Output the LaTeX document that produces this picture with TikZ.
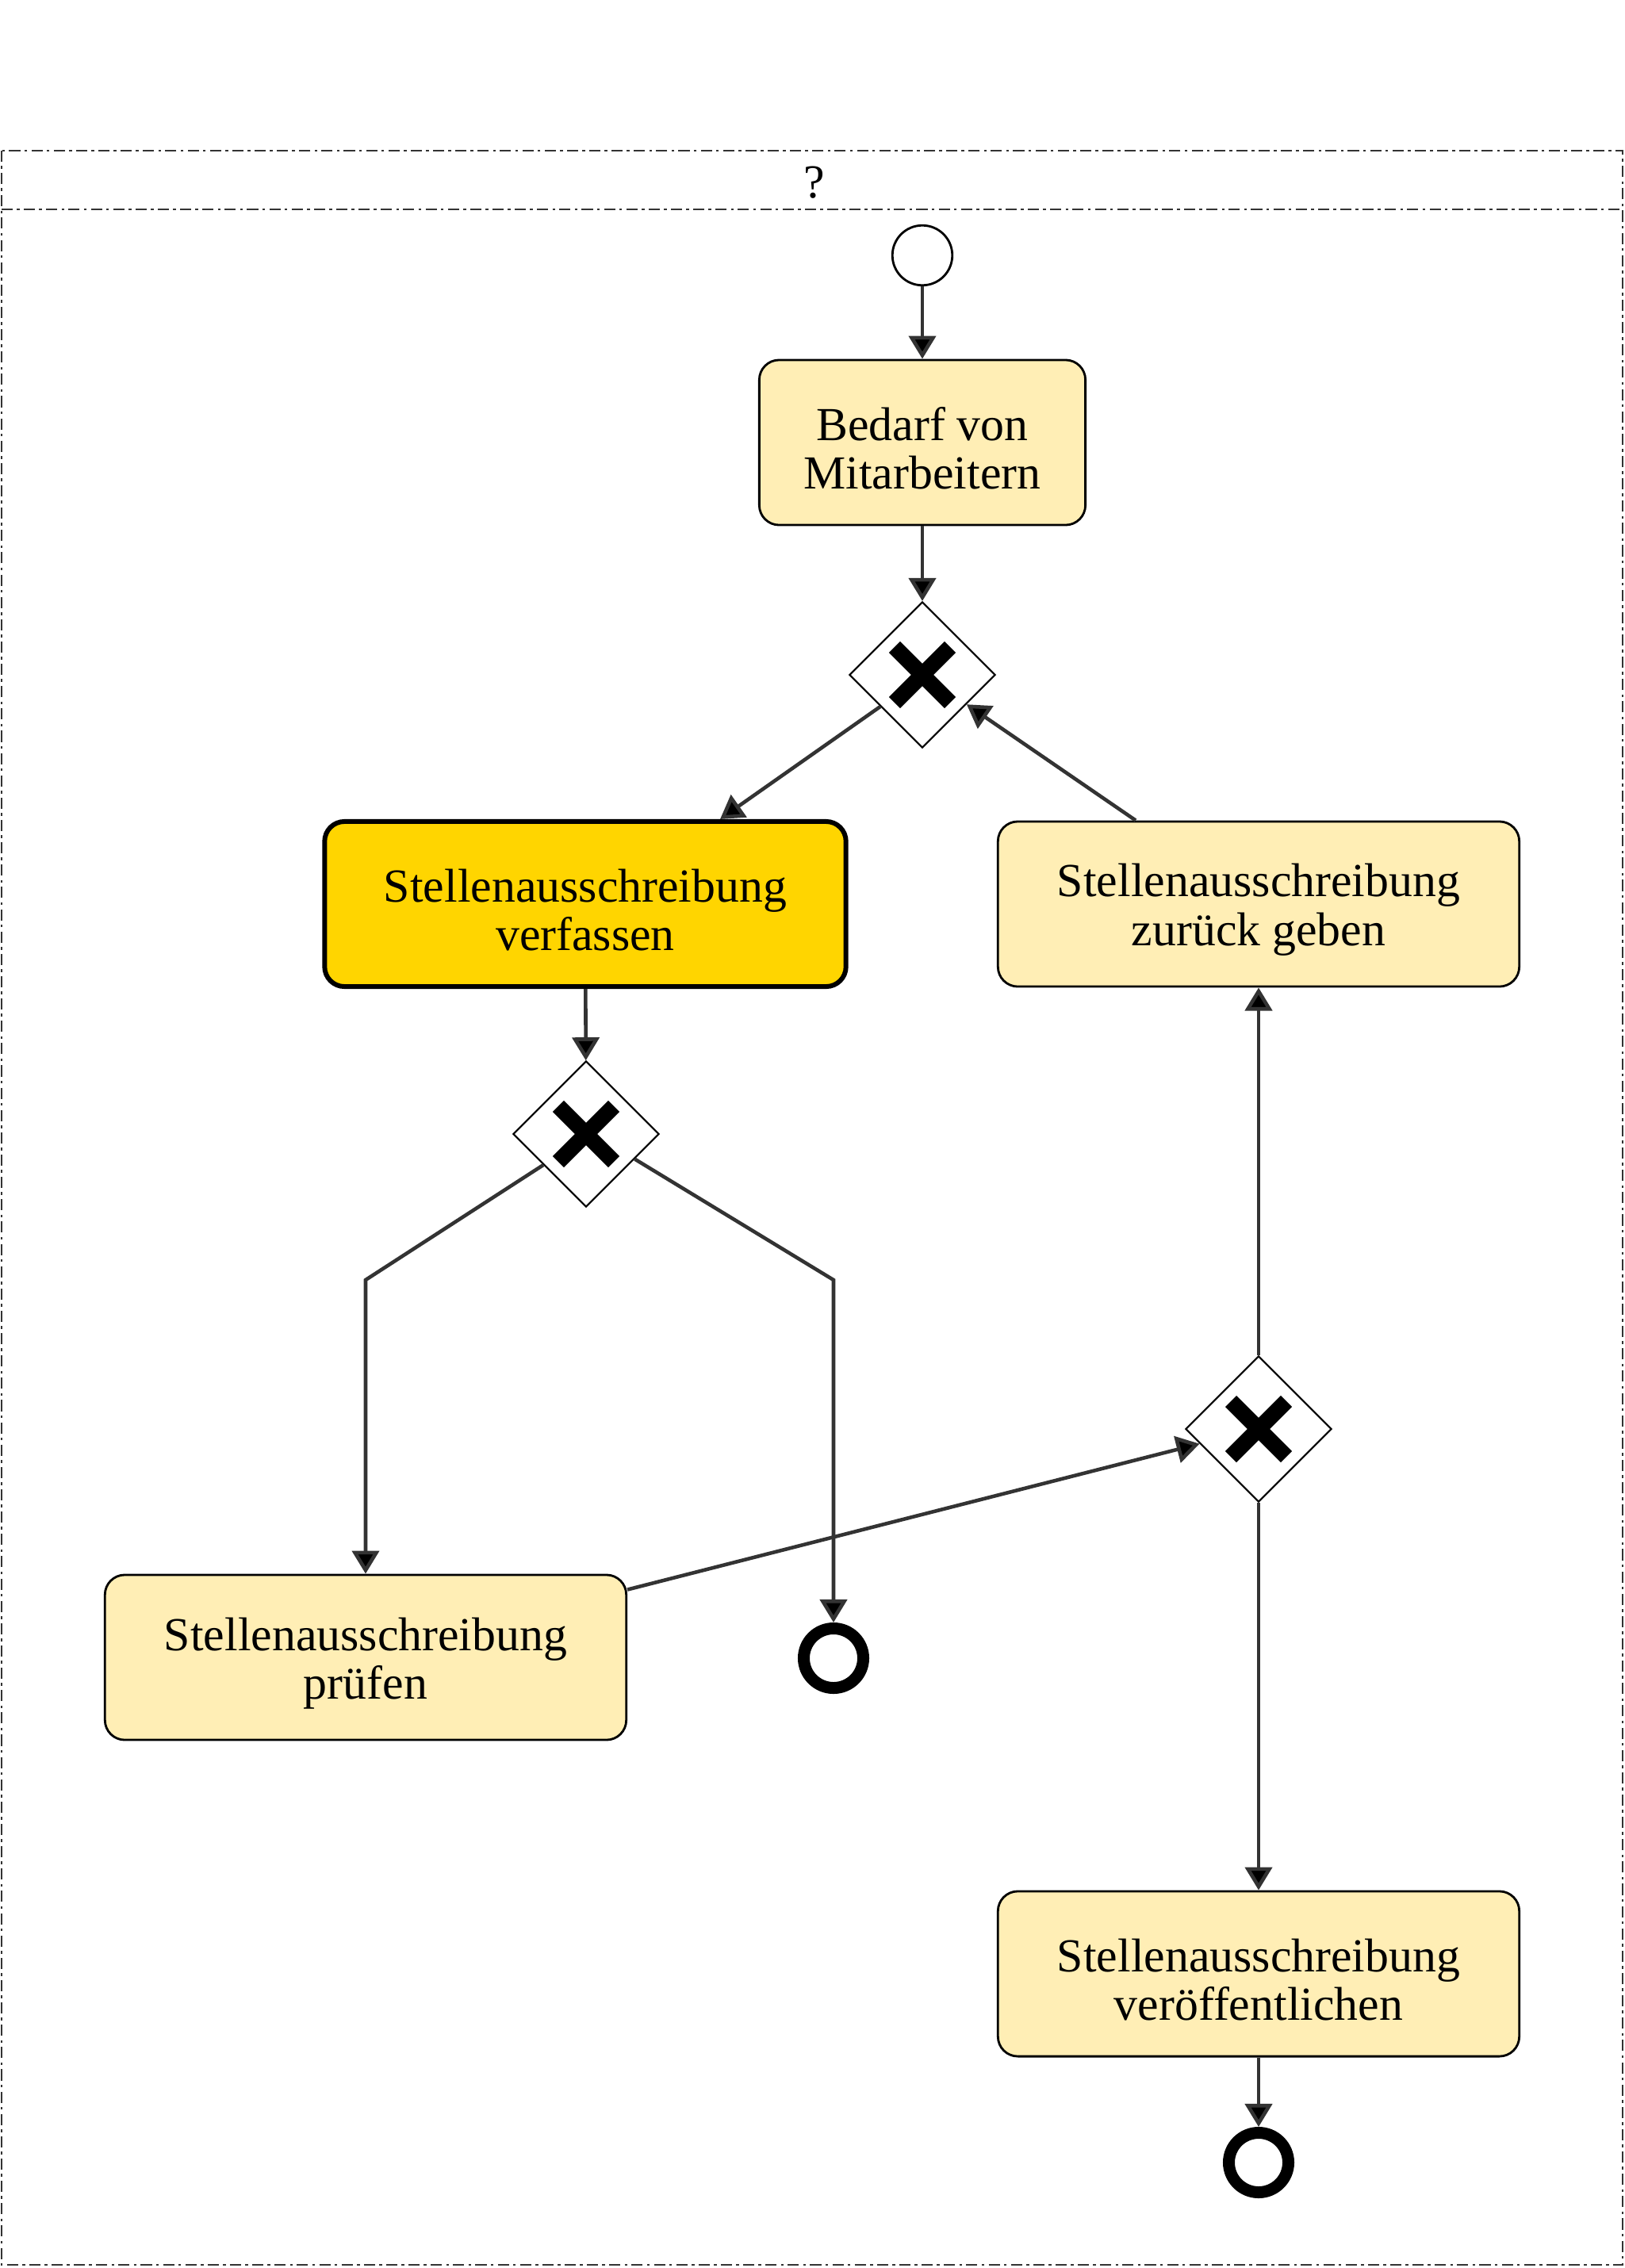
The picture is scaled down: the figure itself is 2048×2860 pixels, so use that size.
\documentclass[tikz,border=0pt]{standalone}
\usepackage{fontspec}
\setmainfont{Liberation Serif}
\usetikzlibrary{calc,shapes.geometric,arrows.meta}
\definecolor{taskfill}{HTML}{FFEEB5}
\definecolor{taskgold}{HTML}{FFD500}
\definecolor{flowgray}{HTML}{333333}

\begin{document}
\begin{tikzpicture}[x=0.01cm, y=-0.01cm,
    task/.style={rectangle, rounded corners=0.25cm, draw, line width=0.8pt, fill=taskfill,
      minimum width=6.57cm, minimum height=2.08cm, text width=6cm, align=flush center,
      font=\fontsize{17}{17.5}\selectfont, execute at begin node={\rule{0pt}{16pt}}},
    gate/.style={diamond, draw, fill=white, line width=0.6pt, minimum size=1.84cm, inner sep=0pt,
      path picture={\draw[line width=0.2cm] (path picture bounding box.center)
        +(-0.35cm,-0.35cm) -- +(0.35cm,0.35cm) +(-0.35cm,0.35cm) -- +(0.35cm,-0.35cm);}},
    startev/.style={circle, draw, fill=white, line width=0.8pt, minimum size=0.755cm, inner sep=0pt},
    endev/.style={circle, draw, fill=white, line width=0.15cm, minimum size=0.75cm, inner sep=0pt},
    flow/.style={draw=flowgray, line width=1.3pt, -{Triangle[length=0.29cm,width=0.34cm,fill=black]}},
    frame/.style={draw=black!80, line width=0.4pt, dash pattern=on 4pt off 1.5pt on 1pt off 1.5pt}]
    \useasboundingbox (0,0) rectangle (2048,2860);
    % Pool
    \draw [frame] (2,190) rectangle (2046,2856);
    \draw [frame] (2,264) -- (2046,264);
    \node [font=\fontsize{17}{17.5}\selectfont] (pool) at (1027,230) {?};
    % Place nodes
    \node [startev] (start) at (1163,322) {};
    \node [task, minimum width=4.11cm, text width=3.6cm] (bedarf) at (1163,558) {Bedarf von\\Mitarbeitern};
    \node [gate] (gw1) at (1163,851) {};
    \node [task, fill=taskgold, line width=1.7pt] (verf) at (738,1140) {Stellenausschreibung\\verfassen};
    \node [task] (zurueck) at (1587,1140) {Stellenausschreibung\\zurück geben};
    \node [gate] (gw2) at (739,1430) {};
    \node [gate] (gw3) at (1587,1802) {};
    \node [task] (pruef) at (461,2090) {Stellenausschreibung\\prüfen};
    \node [endev] (end1) at (1051,2091) {};
    \node [task] (veroeff) at (1587,2489) {Stellenausschreibung\\veröffentlichen};
    \node [endev] (end2) at (1587,2727) {};
    \coordinate (bendL) at (461,1614);
    \coordinate (bendR) at (1051,1614);
    % Flows
    \path [flow] (start) -- (bedarf);
    \path [flow] (bedarf) -- (gw1);
    \path [flow] ($(gw1.west)!0.43!(gw1.south)$) -- ($(verf.north)+(170,0)$);
    \path [flow] ($(zurueck.north)+(-155,0)$) -- ($(gw1.east)!0.4!(gw1.south)$);
    \path [flow] (verf) -- (gw2);
    \path [flow] ($(gw2.west)!0.42!(gw2.south)$) -- (bendL) -- (pruef);
    \path [flow] ($(gw2.east)!0.34!(gw2.south)$) -- (bendR) -- (end1);
    \path [flow] ($(pruef.north east)+(0,20)$) -- ($(gw3.west)!0.2!(gw3.south)$);
    \path [flow] (gw3) -- (zurueck);
    \path [flow] (gw3) -- (veroeff);
    \path [flow] (veroeff) -- (end2);
\end{tikzpicture}
\end{document}
